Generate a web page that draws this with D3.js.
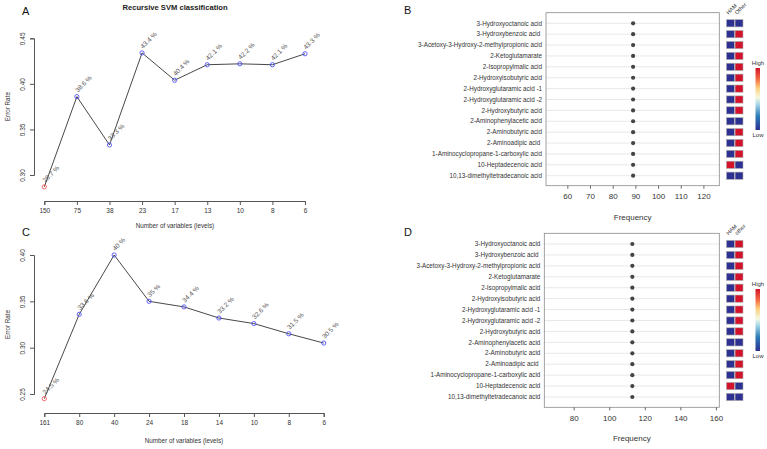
<!DOCTYPE html>
<html>
<head>
<meta charset="utf-8">
<script src="https://cdn.jsdelivr.net/npm/d3@7"></script>
<style>
  body { margin: 0; background: #fff; }
  svg { font-family: "Liberation Sans", Arial, sans-serif; }
  text { white-space: pre; }
</style>
</head>
<body>
<script>
// Panel A / C: recursive SVM error rates
var varsA = ["150", "75", "38", "23", "17", "13", "10", "8", "6"];
var errA = [0.287, 0.386, 0.333, 0.434, 0.404, 0.421, 0.422, 0.421, 0.433];
var varsC = ["161", "80", "40", "24", "18", "14", "10", "8", "6"];
var errC = [0.245, 0.336, 0.400, 0.350, 0.344, 0.332, 0.326, 0.315, 0.305];

// Panel B / D: metabolites, frequency and group level (0 = low, 1 = high)
var metabolites = ["3-Hydroxyoctanoic acid", "3-Hydroxybenzoic acid ", "3-Acetoxy-3-Hydroxy-2-methylpropionic acid",
  "2-Ketoglutamarate", "2-Isopropylmalic acid", "2-Hydroxyisobutyric acid", "2-Hydroxyglutaramic acid -1",
  "2-Hydroxyglutaramic acid -2", "2-Hydroxybutyric acid", "2-Aminophenylacetic acid", "2-Aminobutyric acid",
  "2-Aminoadipic acid ", "1-Aminocyclopropane-1-carboxylic acid", "10-Heptadecenoic acid", "10,13-dimethyltetradecanoic acid"];
var freqB = [89, 89, 89, 89, 89, 89, 89, 89, 89, 89, 89, 89, 89, 89, 89];
var freqD = [113, 113, 113, 113, 113, 113, 113, 113, 113, 113, 113, 113, 113, 113, 113];
var groupsB = ["HAM", "Other"];
var groupsD = ["HAM", "other"];
var hamB   = [0, 0, 0, 0, 0, 0, 0, 0, 0, 0, 0, 0, 0, 1, 0];
var otherB = [0, 1, 1, 1, 1, 1, 1, 1, 1, 0, 1, 1, 1, 0, 0];
var hamD   = [0, 0, 0, 0, 0, 0, 0, 0, 0, 0, 0, 0, 0, 1, 0];
var otherD = [1, 1, 1, 1, 1, 1, 1, 1, 1, 0, 1, 1, 1, 0, 0];
var ticksB = [60, 70, 80, 90, 100, 110, 120];
var ticksD = [80, 100, 120, 140, 160];

var svg = d3.select("body").append("svg")
  .attr("width", 767)
  .attr("height", 449);

var heatColor = d3.scaleLinear().domain([0, 1]).range(["#2d3192", "#d3122b"]);

// Line chart of error rate vs number of variables
function lineChart(cats, vals, o) {
  var x = d3.scalePoint().domain(cats).range([o.x0, o.x1]);
  var y = d3.scaleLinear().domain(o.yDom).range([o.yBottom, o.yTop]);
  var g = svg.append("g");

  var xa = g.append("g")
    .attr("transform", "translate(0," + o.xAxisY + ")")
    .call(d3.axisBottom(x).tickSizeOuter(0).tickSize(4).tickPadding(3));
  xa.selectAll("path, line").attr("stroke", "#555");
  xa.selectAll("text").attr("fill", "#333").style("font-size", "6.5px").style("font-family", "Liberation Sans, Arial");

  var ya = g.append("g")
    .attr("transform", "translate(" + o.yAxisX + ",0)")
    .call(d3.axisLeft(y).tickValues(o.yTicks).tickFormat(d3.format(".2f")).tickSizeOuter(0).tickSize(4));
  ya.selectAll("path, line").attr("stroke", "#555");
  ya.selectAll("text")
    .attr("fill", "#333")
    .style("font-size", "6.5px")
    .style("font-family", "Liberation Sans, Arial")
    .attr("text-anchor", "middle")
    .attr("x", 0).attr("dy", 0)
    .attr("transform", "translate(-9,0) rotate(-90)");

  var line = d3.line()
    .x(function (d, i) { return x(cats[i]); })
    .y(function (d) { return y(d); });

  g.append("path")
    .datum(vals)
    .attr("fill", "none")
    .attr("stroke", "#333")
    .attr("stroke-width", 0.9)
    .attr("d", line);

  g.selectAll("circle")
    .data(vals)
    .enter().append("circle")
    .attr("cx", function (d, i) { return x(cats[i]); })
    .attr("cy", function (d) { return y(d); })
    .attr("r", 2.1)
    .attr("fill", "none")
    .attr("stroke-width", 0.9)
    .attr("stroke", function (d, i) { return i == 0 ? "#ff5a5a" : "#5050ff"; });

  g.selectAll(".lab")
    .data(vals)
    .enter().append("text")
    .attr("class", "lab")
    .attr("transform", function (d, i) { return "translate(" + (x(cats[i]) + 1) + "," + (y(d) - 4) + ") rotate(-45)"; })
    .attr("fill", "#555")
    .style("font-size", "6.5px")
    .text(function (d) { return +(d * 100).toFixed(1) + " %"; });

  g.append("text")
    .attr("x", o.titleX).attr("y", o.xTitleY)
    .attr("text-anchor", "middle")
    .attr("fill", "#333")
    .style("font-size", "6.3px")
    .text("Number of variables (levels)");

  g.append("text")
    .attr("transform", "translate(" + 10 + "," + ((o.yTop + o.yBottom) / 2) + ") rotate(-90)")
    .attr("text-anchor", "middle")
    .attr("fill", "#333")
    .style("font-size", "6.3px")
    .text("Error Rate");
}

// Dot chart of selection frequency with heat cells
function dotChart(freq, ham, other, groups, ticks, o) {
  var g = svg.append("g");
  var x = d3.scaleLinear().domain(o.xDom).range([o.left, o.right]);
  var y = d3.scalePoint().domain(metabolites).range([o.row0, o.row1]);

  g.selectAll(".grid")
    .data(metabolites)
    .enter().append("line")
    .attr("x1", o.left).attr("x2", o.right)
    .attr("y1", function (d) { return y(d); })
    .attr("y2", function (d) { return y(d); })
    .attr("stroke", "#e2e2e2")
    .attr("stroke-width", 0.8);

  g.append("rect")
    .attr("x", o.left).attr("y", o.top)
    .attr("width", o.right - o.left).attr("height", o.bottom - o.top)
    .attr("fill", "none")
    .attr("stroke", "#8a8a8a")
    .attr("stroke-width", 0.8);

  g.selectAll(".name")
    .data(metabolites)
    .enter().append("text")
    .attr("x", o.left - 4)
    .attr("y", function (d) { return y(d); })
    .attr("dy", "0.35em")
    .attr("text-anchor", "end")
    .attr("fill", "#333")
    .style("font-size", "6.3px")
    .text(function (d) { return d; });

  g.selectAll(".dot")
    .data(freq)
    .enter().append("circle")
    .attr("cx", function (d) { return x(d); })
    .attr("cy", function (d, i) { return y(metabolites[i]); })
    .attr("r", 2.1)
    .attr("fill", "#444");

  var xa = g.append("g")
    .attr("transform", "translate(0," + o.bottom + ")")
    .call(d3.axisBottom(x).tickValues(ticks).tickSize(3).tickPadding(5));
  xa.select(".domain").remove();
  xa.selectAll("line").attr("stroke", "#666");
  xa.selectAll("text").attr("fill", "#333").style("font-size", "8px").style("font-family", "Liberation Sans, Arial");

  g.append("text")
    .attr("x", (o.left + o.right) / 2).attr("y", o.bottom + 34)
    .attr("text-anchor", "middle")
    .attr("fill", "#333")
    .style("font-size", "8px")
    .text("Frequency");

  // heat cells
  var cx = d3.scaleBand().domain(groups).range([726.5, 743]).paddingInner(0.08);
  [ham, other].forEach(function (col, c) {
    g.selectAll(".cell" + c)
      .data(col)
      .enter().append("rect")
      .attr("x", cx(groups[c]))
      .attr("y", function (d, i) { return y(metabolites[i]) - 3.6; })
      .attr("width", cx.bandwidth())
      .attr("height", 7.2)
      .attr("fill", function (d) { return heatColor(d); })
      .attr("stroke", "#aaa")
      .attr("stroke-width", 0.6);
    g.append("text")
      .attr("transform", "translate(" + (cx(groups[c]) + 2) + "," + (o.top + 2) + ") rotate(-45)")
      .attr("fill", "#333")
      .style("font-size", "5.5px")
      .text(groups[c]);
  });

  // legend
  var lg = o.legendTop;
  g.append("text").attr("x", 758).attr("y", lg - 3).attr("text-anchor", "middle")
    .attr("fill", "#333").style("font-size", "6px").text("High");
  g.append("rect").attr("x", 755.5).attr("y", lg).attr("width", 4.5).attr("height", 62)
    .attr("fill", "url(#grad)");
  g.append("text").attr("x", 758).attr("y", lg + 69).attr("text-anchor", "middle")
    .attr("fill", "#333").style("font-size", "6px").text("Low");
}

var defs = svg.append("defs");
var grad = defs.append("linearGradient").attr("id", "grad")
  .attr("x1", 0).attr("y1", 1).attr("x2", 0).attr("y2", 0);
var stops = [[0, "#2d3192"], [0.22, "#2c7bb6"], [0.42, "#abd9e9"], [0.52, "#f4f8e0"], [0.68, "#fdd080"], [0.82, "#f46d43"], [1, "#d3122b"]];
stops.forEach(function (s) {
  grad.append("stop").attr("offset", s[0]).attr("stop-color", s[1]);
});

lineChart(varsA, errA, {
  x0: 44.3, x1: 305, yDom: [0.30, 0.45], yTicks: [0.30, 0.35, 0.40, 0.45],
  yBottom: 175, yTop: 38.3, xAxisY: 201, yAxisX: 34, xTitleY: 228, titleX: 175
});
lineChart(varsC, errC, {
  x0: 44.3, x1: 323.7, yDom: [0.25, 0.40], yTicks: [0.25, 0.30, 0.35, 0.40],
  yBottom: 394, yTop: 255, xAxisY: 413, yAxisX: 34, xTitleY: 443, titleX: 184
});

dotChart(freqB, hamB, otherB, groupsB, ticksB, {
  xDom: [50.6, 127], left: 546, right: 719.3, top: 12.7, bottom: 185.7, row0: 23.3, row1: 175.7, legendTop: 68
});
dotChart(freqD, hamD, otherD, groupsD, ticksD, {
  xDom: [63.5, 161.9], left: 544.3, right: 719.3, top: 233.3, bottom: 407.3, row0: 244, row1: 397, legendTop: 289
});

// titles and panel letters
svg.append("text").attr("x", 175).attr("y", 10).attr("text-anchor", "middle")
  .style("font-size", "7.6px").style("font-weight", "bold").attr("fill", "#222")
  .text("Recursive SVM classification");
[["A", 22, 15], ["C", 22, 236], ["B", 404, 14], ["D", 404, 236]].forEach(function (p) {
  svg.append("text").attr("x", p[1]).attr("y", p[2])
    .style("font-size", "11px").attr("fill", "#111").text(p[0]);
});
</script>
</body>
</html>
